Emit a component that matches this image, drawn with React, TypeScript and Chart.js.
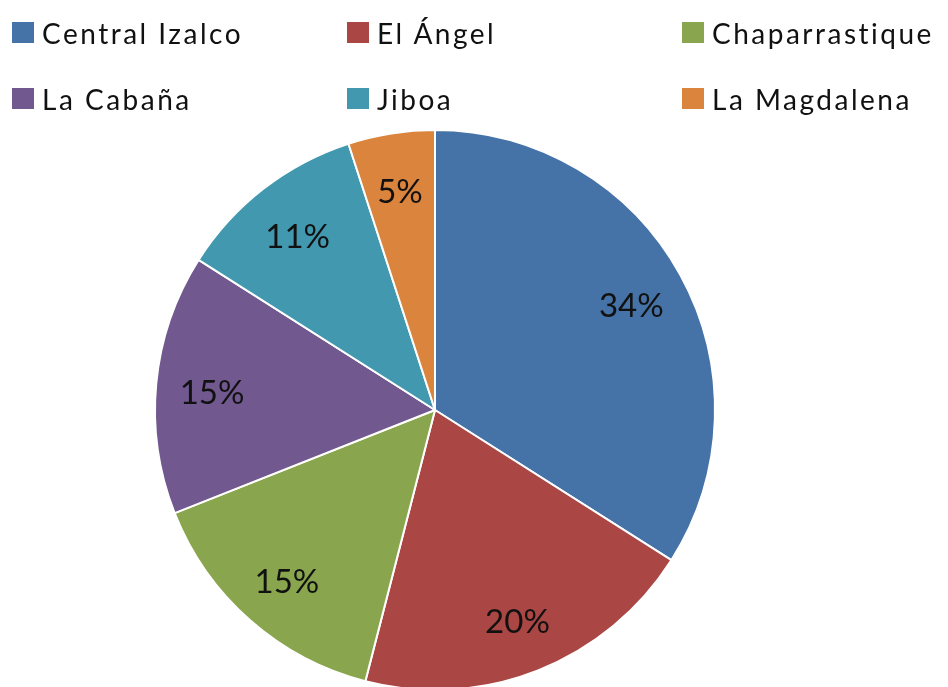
import React, { useEffect, useRef } from "react";
import { Chart, registerables } from "chart.js";

Chart.register(...registerables);

const categories = ["Central Izalco", "El Ángel", "Chaparrastique", "La Cabaña", "Jiboa", "La Magdalena"];
const shares = [34, 20, 15, 15, 11, 5];
const percentLabels = ["34%", "20%", "15%", "15%", "11%", "5%"];
const sliceColors = ["#4572A7", "#AA4643", "#89A54E", "#71588F", "#4198AF", "#DB843D"];

const FONT = "Lato, 'Open Sans', sans-serif";

const labelPlugin = {
  id: "sliceLabels",
  afterDatasetsDraw(chart: any) {
    const ctx = chart.ctx;
    const meta = chart.getDatasetMeta(0);
    ctx.save();
    ctx.font = `33px ${FONT}`;
    ctx.fillStyle = "#111";
    ctx.textAlign = "center";
    ctx.textBaseline = "middle";
    meta.data.forEach((arc: any, i: number) => {
      const { x, y, startAngle, endAngle, outerRadius } = arc.getProps(
        ["x", "y", "startAngle", "endAngle", "outerRadius"],
        true
      );
      const mid = (startAngle + endAngle) / 2;
      const r = outerRadius * 0.8;
      ctx.fillText(percentLabels[i], x + Math.cos(mid) * r, y + Math.sin(mid) * r + 4);
    });
    ctx.restore();
  },
};

export default function App() {
  const ref = useRef<HTMLCanvasElement | null>(null);

  useEffect(() => {
    if (!ref.current) return;
    const chart = new Chart(ref.current, {
      type: "pie",
      data: {
        labels: categories,
        datasets: [
          {
            data: shares,
            backgroundColor: sliceColors,
            borderColor: "#ffffff",
            borderWidth: 2,
          },
        ],
      },
      options: {
        animation: false,
        responsive: false,
        radius: 280,
        layout: { padding: { left: 155, right: 233, top: 133, bottom: 0 } },
        plugins: {
          legend: { display: false },
          tooltip: { enabled: false },
        },
      },
      plugins: [labelPlugin],
    });
    return () => chart.destroy();
  }, []);

  const colX = [12, 347, 682];
  const rowY = [22, 88];

  return (
    <div style={{ position: "absolute", left: 0, top: 0, width: 948, height: 687, background: "#fff", overflow: "hidden" }}>
      <canvas ref={ref} width={948} height={687} style={{ position: "absolute", left: 0, top: 0 }} />
      {categories.map((name, i) => {
        const col = i % 3;
        const row = Math.floor(i / 3);
        return (
          <div
            key={name}
            style={{
              position: "absolute",
              left: colX[col],
              top: rowY[row],
              height: 21,
              display: "flex",
              alignItems: "center",
              fontFamily: FONT,
              fontSize: 28,
              color: "#111",
              whiteSpace: "nowrap",
              letterSpacing: 2.5,
            }}
          >
            <span style={{ display: "inline-block", width: 22, height: 21, background: sliceColors[i], marginRight: 8 }} />
            <span style={{ lineHeight: "21px", position: "relative", top: 1 }}>{name}</span>
          </div>
        );
      })}
    </div>
  );
}
